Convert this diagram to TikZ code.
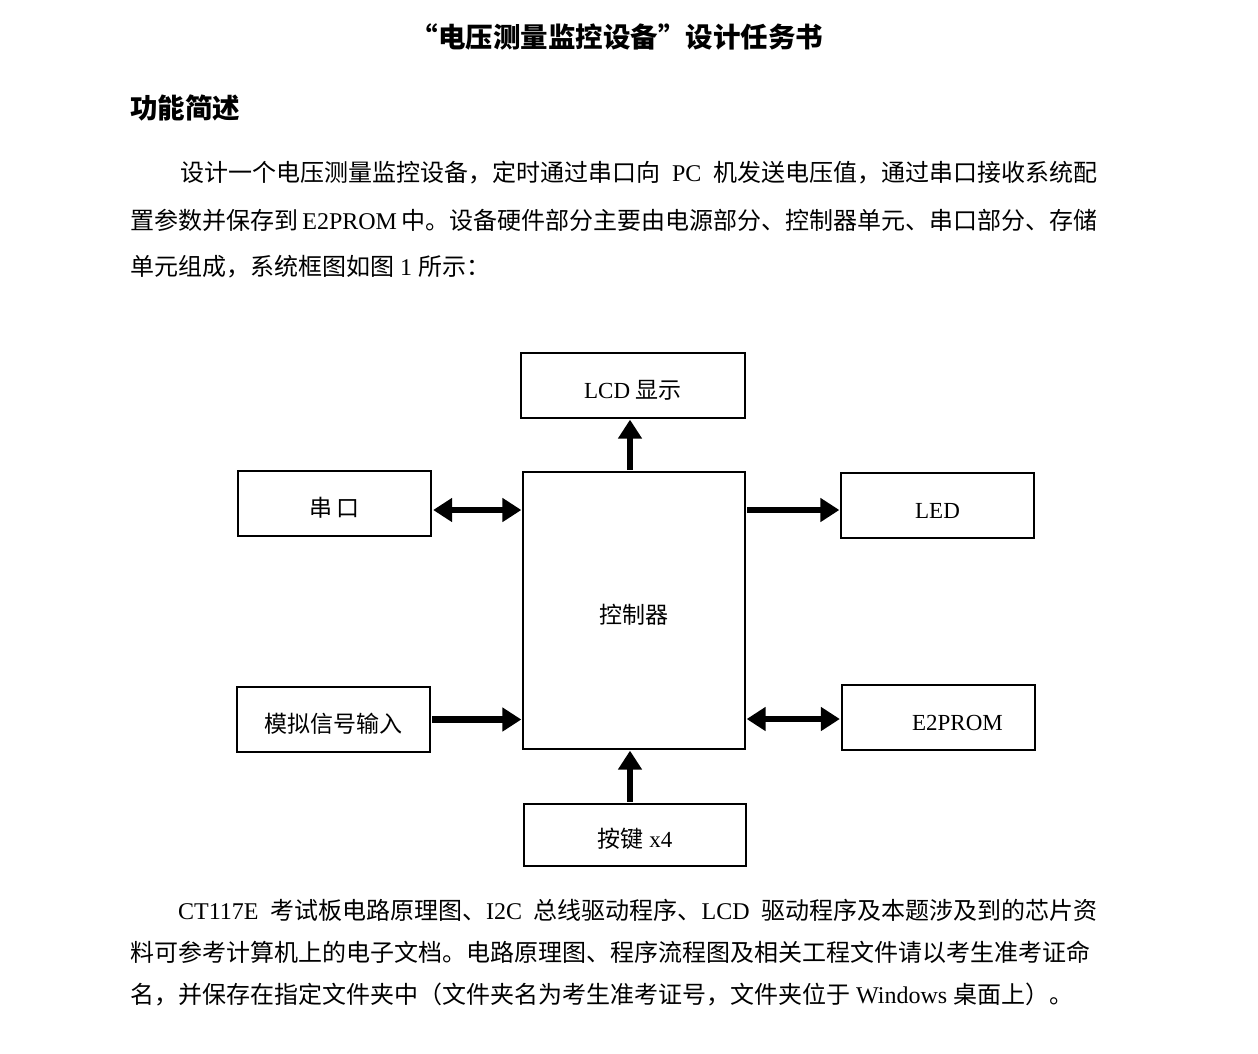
\documentclass[tikz,border=0pt]{standalone}
\usepackage{fontspec}
\setmainfont{Liberation Serif}
\newfontfamily\cjk{Noto Sans CJK SC}
\usetikzlibrary{positioning,arrows.meta}

\begin{document}
\begin{tikzpicture}[
  x=1pt,y=-1pt,
  blockbox/.style={draw,line width=1.3pt,inner sep=0pt,text height=25pt,text depth=0pt,font=\fontsize{23}{26}\selectfont},
  bigarrow/.style={line width=6.5pt,-{Triangle[length=19pt,width=23pt]},shorten >=1pt,shorten <=1.5pt},
  bothway/.style={bigarrow,{Triangle[length=19pt,width=23pt]}-{Triangle[length=19pt,width=23pt]}},
  bodyline/.style={anchor=west,inner sep=0pt,font=\fontsize{24}{28}\selectfont}
]
\useasboundingbox (0,0) rectangle (1258,1053);

% heading and text
\node[font=\cjk\bfseries\fontsize{27.5}{31}\selectfont] (title) at (617,37) {“电压测量监控设备”设计任务书};
\node[anchor=west,inner sep=0pt,font=\cjk\bfseries\fontsize{27.5}{31}\selectfont] (head) at (130,108) {功能简述};

\node[bodyline] (p1a) at (180,173) {\makebox[917pt][s]{{\cjk 设计一个电压测量监控设备，定时通过串口向} PC {\cjk 机发送电压值，通过串口接收系统配}}};
\node[bodyline] (p1b) at (130,220) {\makebox[967pt][s]{{\cjk 置参数并保存到} E2PROM {\cjk 中。设备硬件部分主要由电源部分、控制器单元、串口部分、存储}}};
\node[bodyline] (p1c) at (130,267) {{\cjk 单元组成，系统框图如图} 1 {\cjk 所示：}};

% blocks
\node[blockbox,minimum width=224pt,minimum height=65pt] (lcd) at (633,385.5) {LCD {\cjk 显示}};
\node[blockbox,minimum width=222pt,minimum height=277pt] (ctrl) at (634,610.5) {\cjk 控制器};
\node[blockbox,minimum width=193pt,minimum height=65pt] (ser) at (334.5,503.5) {\cjk 串\,口};
\node[blockbox,minimum width=193pt,minimum height=65pt] (led) at (937.5,505.5) {LED};
\node[blockbox,minimum width=193pt,minimum height=65pt] (ana) at (333.5,719.5) {\cjk 模拟信号输入};
\node[blockbox,minimum width=193pt,minimum height=65pt] (eep) at (938.5,717.5) {\hspace*{38pt}E2PROM};
\node[blockbox,minimum width=222pt,minimum height=62pt] (key) at (635,835) {{\cjk 按键} x4};

% arrows
\draw[bigarrow] ([xshift=-4pt]ctrl.north) -- ([xshift=-4pt]ctrl.north |- lcd.south);
\draw[bothway] ([yshift=-6.5pt]ser.east) -- ([yshift=-6.5pt]ser.east -| ctrl.west);
\draw[bigarrow] ([yshift=-4.5pt]led.west -| ctrl.east) -- ([yshift=-4.5pt]led.west);
\draw[bigarrow] (ana.east) -- (ana.east -| ctrl.west);
\draw[bothway] ([yshift=-1.5pt]eep.west) -- ([yshift=-1.5pt]eep.west -| ctrl.east);
\draw[bigarrow] ([xshift=-5pt]key.north) -- ([xshift=-5pt]key.north |- ctrl.south);

\node[bodyline] (p2a) at (178,910) {\makebox[919pt][s]{CT117E {\cjk 考试板电路原理图、}I2C {\cjk 总线驱动程序、}LCD {\cjk 驱动程序及本题涉及到的芯片资}}};
\node[bodyline] (p2b) at (130,952) {\cjk 料可参考计算机上的电子文档。电路原理图、程序流程图及相关工程文件请以考生准考证命};
\node[bodyline] (p2c) at (130,994) {{\cjk 名，并保存在指定文件夹中（文件夹名为考生准考证号，文件夹位于} Windows {\cjk 桌面上）。}};
\end{tikzpicture}
\end{document}
